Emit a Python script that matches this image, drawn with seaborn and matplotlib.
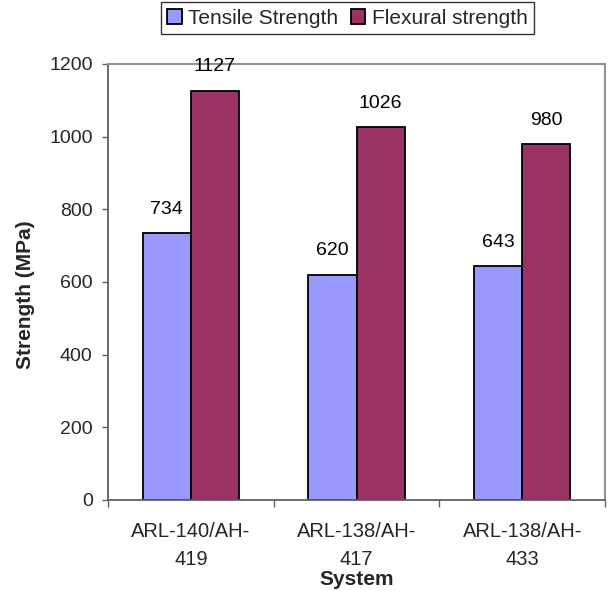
import matplotlib
matplotlib.use("Agg")
import matplotlib.pyplot as plt
import seaborn as sns
import pandas as pd
from matplotlib.ticker import FixedLocator

systems = ["ARL-140/AH-\n419", "ARL-138/AH-\n417", "ARL-138/AH-\n433"]
series = ["Tensile Strength", "Flexural strength"]
tensile = [734, 620, 643]
flexural = [1127, 1026, 980]
yticks = [0, 200, 400, 600, 800, 1000, 1200]

df = pd.DataFrame({
    "System": systems * 2,
    "Series": [series[0]] * 3 + [series[1]] * 3,
    "Strength": tensile + flexural,
})

sns.set_theme(style="white")
plt.rcParams["font.family"] = ["Liberation Sans", "DejaVu Sans"]

FS = 14

fig = plt.figure(figsize=(6.14, 5.91), dpi=100)
ax = fig.add_axes([108 / 614, 91 / 591, 497 / 614, 436 / 591])

sns.barplot(data=df, x="System", y="Strength", hue="Series",
            palette=["#9999FF", "#993366"], width=0.58,
            edgecolor="black", linewidth=1.3, saturation=1, ax=ax,
            legend=True)

for cont in ax.containers:
    ax.bar_label(cont, padding=11, fontsize=FS, color="black")

ax.set_ylim(0, 1200)
ax.set_xlim(-0.5, 2.5)
ax.set_yticks(yticks)
ax.tick_params(axis="y", labelsize=FS, length=4, width=1, color="#606060",
               left=True, direction="out", pad=7)
ax.tick_params(axis="x", which="major", labelsize=14.5, length=0, pad=16)
ax.xaxis.set_minor_locator(FixedLocator([-0.5, 0.5, 1.5, 2.5]))
ax.tick_params(axis="x", which="minor", length=5, width=1, color="#606060",
               bottom=True, direction="out")
for lbl in ax.get_xticklabels():
    lbl.set_horizontalalignment("center")
    lbl.set_linespacing(1.6)

ax.set_xlabel("System", fontsize=15, fontweight="bold")
ax.xaxis.set_label_coords(0.5, (500 - 570) / 436)
ax.set_ylabel("Strength (MPa)", fontsize=15, fontweight="bold")
ax.yaxis.label.set_verticalalignment("center")
ax.yaxis.set_label_coords((26 - 108) / 497, (500 - 295) / 436)

for side in ["left", "bottom"]:
    ax.spines[side].set_color("#606060")
    ax.spines[side].set_linewidth(1.3)
for side in ["top", "right"]:
    ax.spines[side].set_color("#909090")
    ax.spines[side].set_linewidth(1.5)

leg = ax.legend(loc="center", ncol=2,
                fontsize=15, frameon=True, fancybox=False,
                edgecolor="black", handlelength=0.7, handleheight=0.7,
                handletextpad=0.3, columnspacing=0.6, borderpad=0.3,
                borderaxespad=0)
leg.get_frame().set_linewidth(1.0)
leg.set_bbox_to_anchor(((347.5 - 108) / 497, (500 - 18) / 436), transform=ax.transAxes)

fig.savefig("out.png", dpi=100)
